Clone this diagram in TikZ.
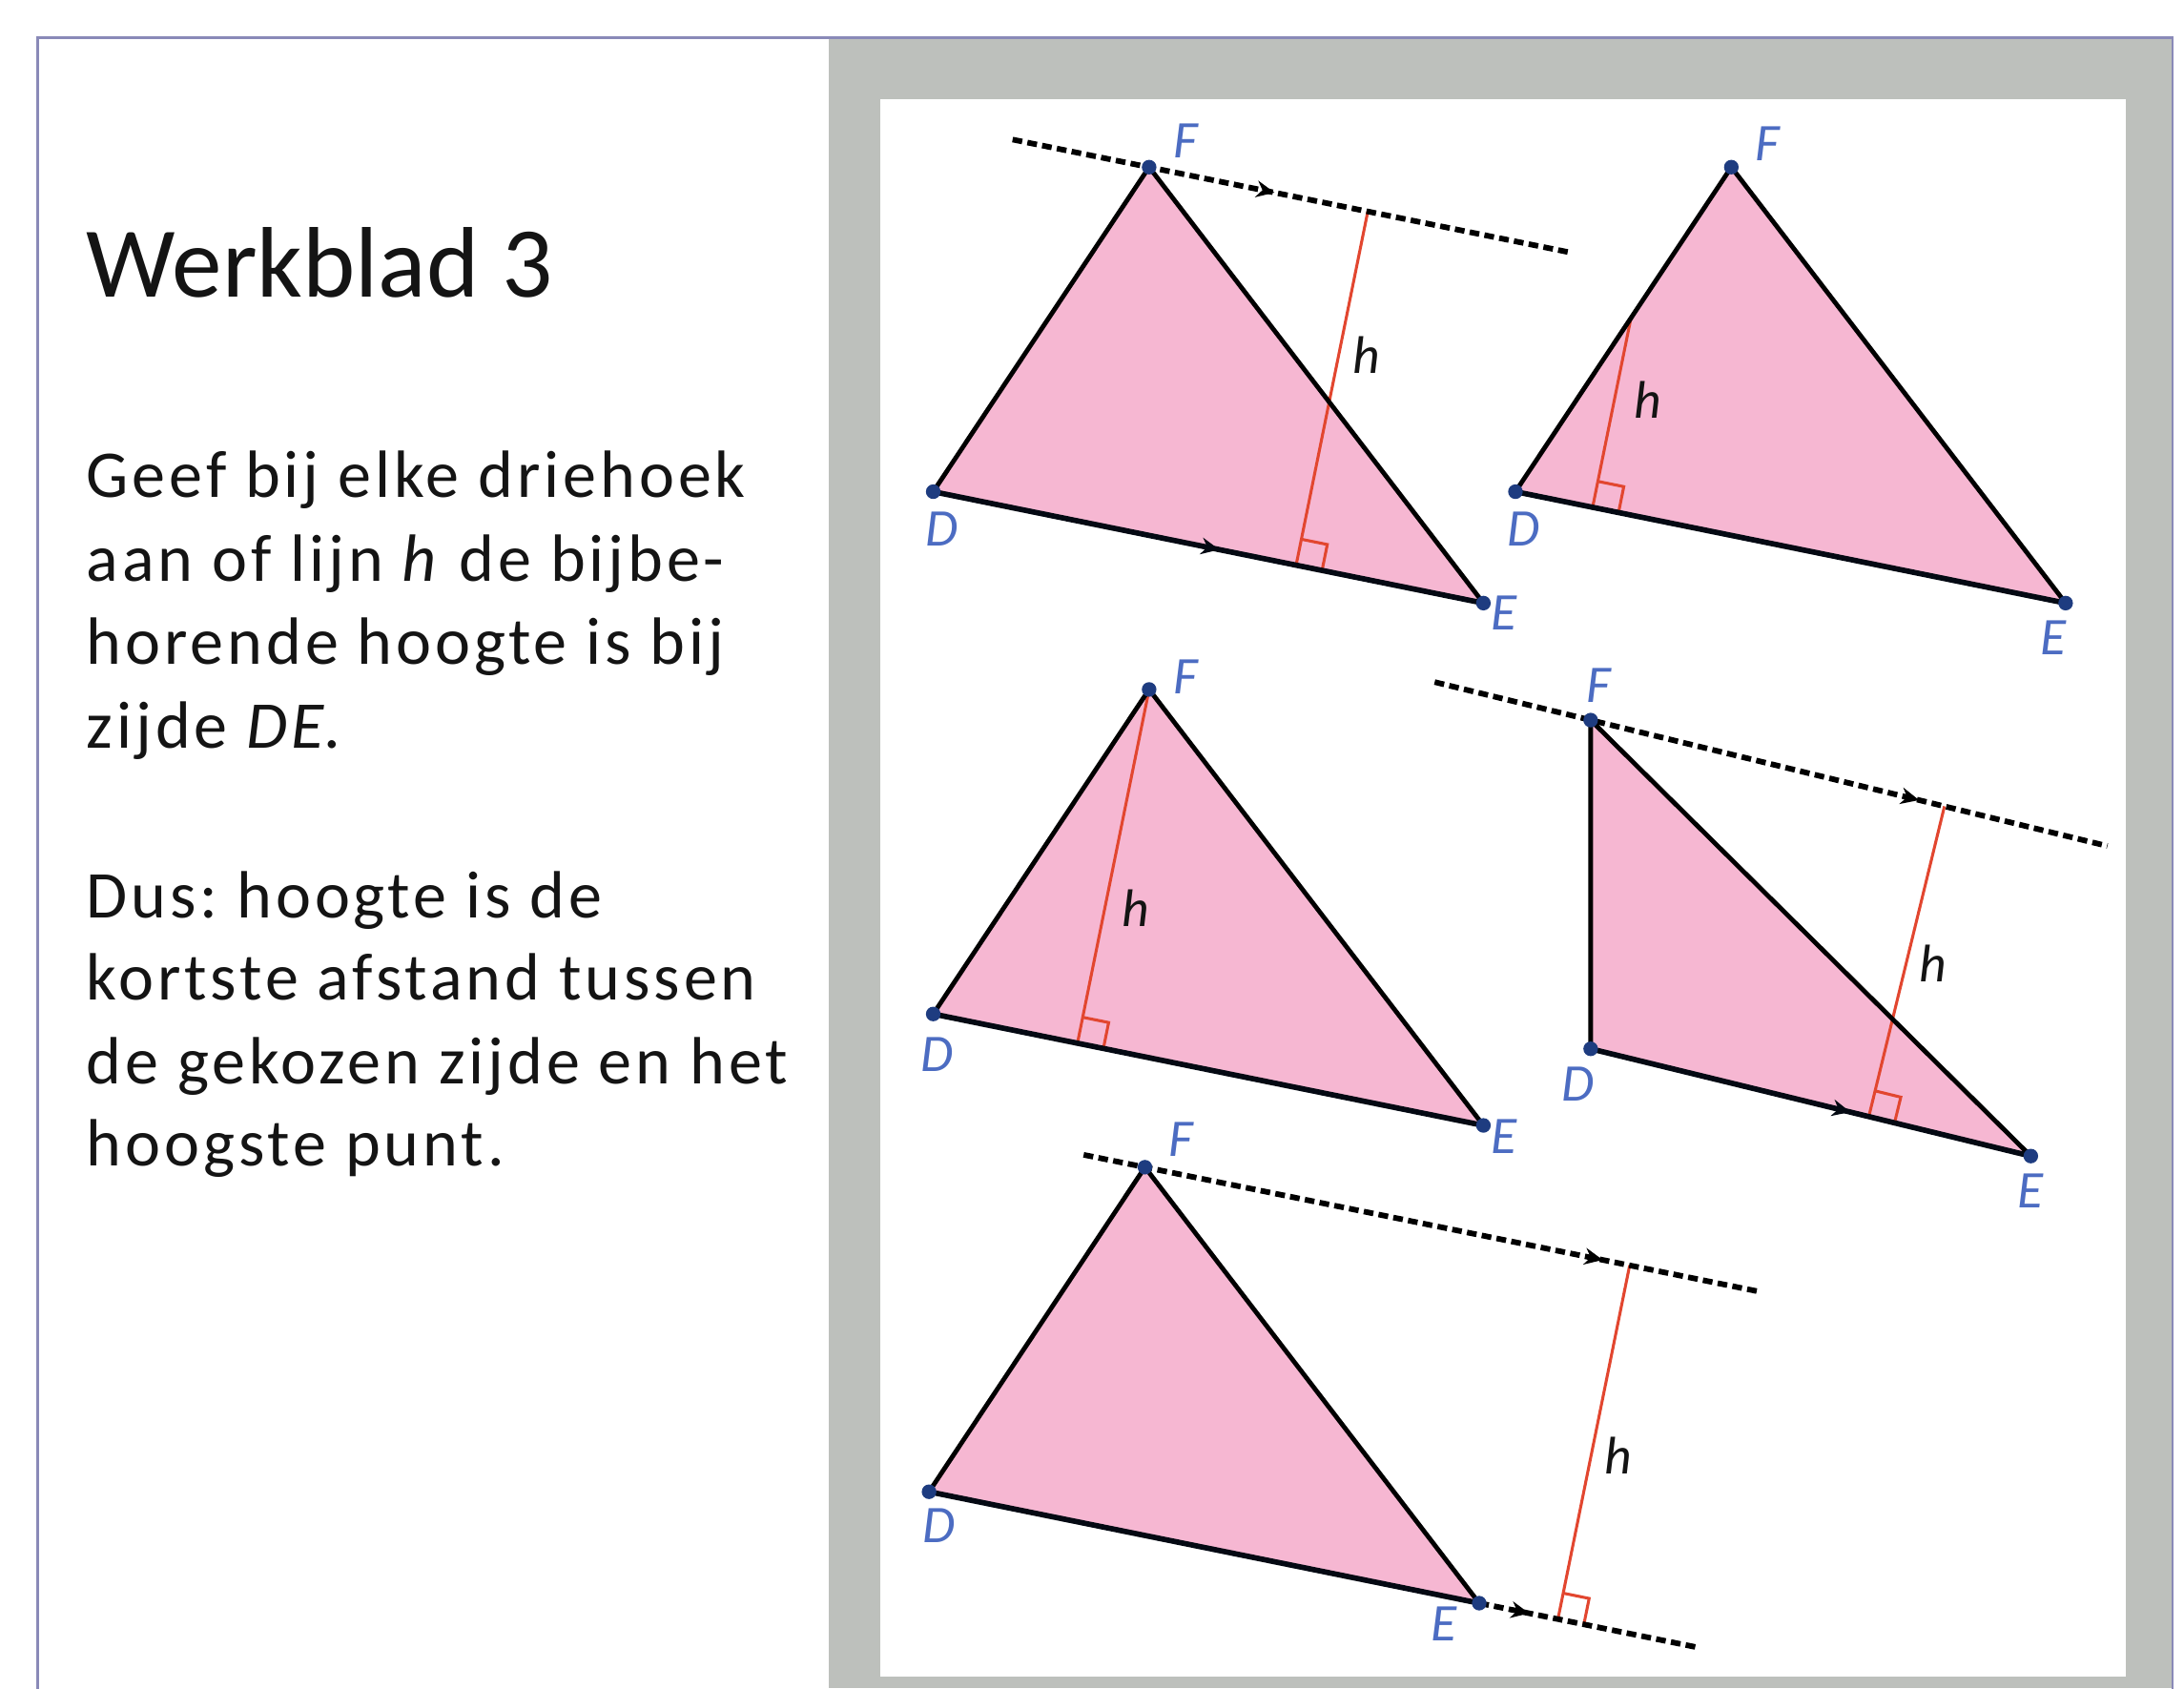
\documentclass[tikz,border=0pt]{standalone}
\usepackage{fontspec}
\setmainfont{Carlito}
\newfontfamily\bodyfont[LetterSpace=5.6]{Carlito}
\newfontfamily\titlefont{Carlito}
\usetikzlibrary{calc,arrows.meta,decorations.markings}
\definecolor{pinkfill}{HTML}{F6B7D2}
\definecolor{redh}{HTML}{E2462F}
\definecolor{dotblue}{HTML}{1E3C80}
\definecolor{lblblue}{HTML}{4C6CC2}
\definecolor{panelgrey}{HTML}{BDC0BC}
\definecolor{framec}{HTML}{8A8AB8}
\definecolor{txt}{HTML}{141414}
\frenchspacing
\newcommand{\rtmark}[3]{%
  \coordinate (#1u) at ($(#1)!19pt!(#2)$);
  \coordinate (#1v) at ($(#1)!19pt!(#3)$);
  \coordinate (#1c) at ($(#1u)+(#1v)-(#1)$);
  \draw[hline] (#1u) -- (#1c) -- (#1v);
}
\begin{document}
\begin{tikzpicture}[x=1pt,y=-1pt,
  edge/.style={draw=black, line width=3.3pt, line join=round, line cap=round},
  baseedge/.style={draw=black!85!dotblue, line width=3.9pt, line cap=round},
  dotline/.style={draw=black, line width=4pt, dash pattern=on 7pt off 3.8pt},
  hline/.style={draw=redh, line width=2.1pt},
  vtx/.style={circle, fill=dotblue, inner sep=0pt, minimum size=10.5pt},
  lbl/.style={text=lblblue, font=\fontsize{38}{38}\selectfont\itshape, inner sep=0pt},
  hlbl/.style={text=txt, font=\fontsize{38}{38}\selectfont\itshape, inner sep=0pt},
  titletext/.style={text=txt, font=\titlefont\fontsize{72}{80}\selectfont, inner sep=0pt, anchor=base west},
  bodytext/.style={text=txt, font=\bodyfont\fontsize{48}{60}\selectfont, inner sep=0pt, anchor=base west},
  pararrow/.style={postaction={decorate, decoration={markings,
      mark=at position #1 with {\arrow{Stealth[length=13pt,width=12pt]}}}}}
]
\useasboundingbox (0,0) rectangle (1568,1212);
\fill[white] (0,0) rectangle (1568,1212);
\fill[panelgrey] (595,27) rectangle (1560,1212);
\fill[white] (632,71) rectangle (1526,1204);
\draw[framec, line width=1.5pt] (1560,1230) -- (1560,27) -- (27,27) -- (27,1230);

% ---------- text ----------
\node[titletext] (ttl) at (62,213) {Werkblad 3};
\node[bodytext] (b1) at (62,357) {Geef bij elke driehoek};
\node[bodytext] (b2) at (62,417) {aan of lijn \textit{h} de bijbe-};
\node[bodytext] (b3) at (62,477) {horende hoogte is bij};
\node[bodytext] (b4) at (62,537) {zijde \textit{DE}.};
\node[bodytext] (b5) at (62,659) {Dus: hoogte is de};
\node[bodytext] (b6) at (62,718) {kortste afstand tussen};
\node[bodytext] (b7) at (62,778) {de gekozen zijde en het};
\node[bodytext] (b8) at (62,837) {hoogste punt.};

% ---------- triangle 1 ----------
\coordinate (D1) at (670,353); \coordinate (E1) at (1065,433); \coordinate (F1) at (825,120);
\coordinate (L1a) at (727,100.2); \coordinate (L1b) at (1127,181.2);
\coordinate (T1) at (982,151.8);
\coordinate (P1) at ($(D1)!(T1)!(E1)$);
\fill[pinkfill] (D1) -- (E1) -- (F1) -- cycle;
\draw[hline] (T1) -- (P1);
\rtmark{P1}{E1}{T1}
\draw[dotline, pararrow=0.47] (L1a) -- (L1b);
\draw[edge] (D1) -- (F1) -- (E1);
\draw[baseedge, pararrow=0.52] (D1) -- (E1);
\node[vtx] (nD1) at (D1) {}; \node[vtx] (nE1) at (E1) {}; \node[vtx] (nF1) at (F1) {};
\node[lbl] (lF1) at (851,101) {F};
\node[lbl] (lD1) at (676,380) {D};
\node[lbl] (lE1) at (1080,440) {E};
\node[hlbl] (h1) at (981,255) {h};

% ---------- triangle 2 ----------
\coordinate (D2) at (1088,353); \coordinate (E2) at (1483,433); \coordinate (F2) at (1243,120);
\coordinate (T2) at ($(D2)!0.535!(F2)$);
\coordinate (P2) at ($(D2)!(T2)!(E2)$);
\fill[pinkfill] (D2) -- (E2) -- (F2) -- cycle;
\draw[hline] (T2) -- (P2);
\rtmark{P2}{E2}{T2}
\draw[edge] (D2) -- (F2) -- (E2);
\draw[baseedge] (D2) -- (E2);
\node[vtx] (nD2) at (D2) {}; \node[vtx] (nE2) at (E2) {}; \node[vtx] (nF2) at (F2) {};
\node[lbl] (lF2) at (1269,103) {F};
\node[lbl] (lD2) at (1094,380) {D};
\node[lbl] (lE2) at (1474,458) {E};
\node[hlbl] (h2) at (1183,287) {h};

% ---------- triangle 3 ----------
\coordinate (D3) at (670,728); \coordinate (E3) at (1065,808); \coordinate (F3) at (825,495);
\coordinate (P3) at ($(D3)!(F3)!(E3)$);
\fill[pinkfill] (D3) -- (E3) -- (F3) -- cycle;
\draw[hline] (F3) -- (P3);
\rtmark{P3}{E3}{F3}
\draw[edge] (D3) -- (F3) -- (E3);
\draw[baseedge] (D3) -- (E3);
\node[vtx] (nD3) at (D3) {}; \node[vtx] (nE3) at (E3) {}; \node[vtx] (nF3) at (F3) {};
\node[lbl] (lF3) at (851,486) {F};
\node[lbl] (lD3) at (673,757) {D};
\node[lbl] (lE3) at (1080,816) {E};
\node[hlbl] (h3) at (815,652) {h};

% ---------- triangle 4 ----------
\coordinate (D4) at (1142,753); \coordinate (E4) at (1458,830); \coordinate (F4) at (1142,517);
\coordinate (L4a) at (1030,489.7); \coordinate (L4b) at (1513,607.4);
\coordinate (T4) at (1396,578.9);
\coordinate (P4) at ($(D4)!(T4)!(E4)$);
\fill[pinkfill] (D4) -- (E4) -- (F4) -- cycle;
\draw[hline] (T4) -- (P4);
\rtmark{P4}{E4}{T4}
\draw[dotline, pararrow=0.72] (L4a) -- (L4b);
\draw[edge] (D4) -- (F4) -- (E4);
\draw[baseedge, pararrow=0.59] (D4) -- (E4);
\node[vtx] (nD4) at (D4) {}; \node[vtx] (nE4) at (E4) {}; \node[vtx] (nF4) at (F4) {};
\node[lbl] (lF4) at (1148,492) {F};
\node[lbl] (lD4) at (1133,778) {D};
\node[lbl] (lE4) at (1458,855) {E};
\node[hlbl] (h4) at (1388,692) {h};

% ---------- triangle 5 ----------
\coordinate (D5) at (667,1071); \coordinate (E5) at (1062,1151); \coordinate (F5) at (822,838);
\coordinate (L5a) at (778,829.1); \coordinate (L5b) at (1262,927.1);
\coordinate (L5c) at (1218,1182.6);
\coordinate (T5) at (1170,908.5);
\coordinate (P5) at ($(D5)!(T5)!(E5)$);
\fill[pinkfill] (D5) -- (E5) -- (F5) -- cycle;
\draw[hline] (T5) -- (P5);
\rtmark{P5}{L5c}{T5}
\draw[dotline, pararrow=0.77] (L5a) -- (L5b);
\draw[dotline, pararrow=0.23] (E5) -- (L5c);
\draw[edge] (D5) -- (F5) -- (E5);
\draw[baseedge] (D5) -- (E5);
\node[vtx] (nD5) at (D5) {}; \node[vtx] (nE5) at (E5) {}; \node[vtx] (nF5) at (F5) {};
\node[lbl] (lF5) at (848,818) {F};
\node[lbl] (lD5) at (674,1095) {D};
\node[lbl] (lE5) at (1037,1166) {E};
\node[hlbl] (h5) at (1162,1045) {h};
\end{tikzpicture}
\end{document}
